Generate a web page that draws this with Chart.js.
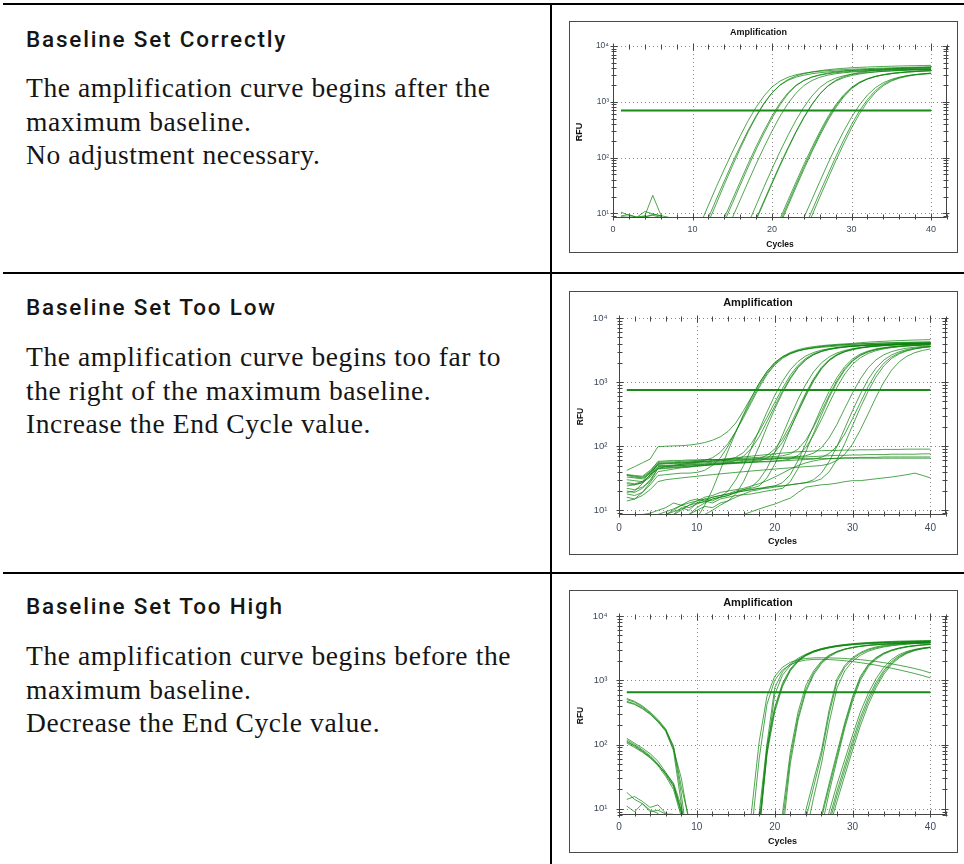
<!DOCTYPE html>
<html>
<head>
<meta charset="utf-8">
<script src="https://cdn.jsdelivr.net/npm/chart.js@4/dist/chart.umd.min.js"></script>
<style>
  html, body { margin: 0; padding: 0; background: #fff; }
  body { width: 964px; height: 864px; position: relative; overflow: hidden; }
  .rule { position: absolute; background: #000; }
  .head { position: absolute; left: 26px; font-family: Roboto, "Noto Sans", sans-serif; font-weight: 500;
          font-size: 22.5px; line-height: 22.5px; letter-spacing: 1.8px; color: #151515; white-space: nowrap; }
  .text { position: absolute; left: 26px; font-family: "Liberation Serif", serif; font-size: 27.5px;
          line-height: 33.7px; letter-spacing: 0.6px; color: #151515; white-space: nowrap; }
  .frame { position: absolute; left: 569px; width: 387px; border: 1px solid #4a4a4a; background: #fff; }
  .frame canvas { display: block; }
</style>
</head>
<body>
<div class="rule" style="left:3px;top:3px;width:961px;height:2px"></div>
<div class="rule" style="left:3px;top:272px;width:961px;height:2px"></div>
<div class="rule" style="left:3px;top:572px;width:961px;height:2px"></div>
<div class="rule" style="left:550px;top:3px;width:2px;height:861px"></div>

<div class="head" style="top:28px">Baseline Set Correctly</div>
<div class="text" style="top:71px">The amplification curve begins after the<br>maximum baseline.<br>No adjustment necessary.</div>

<div class="head" style="top:296px">Baseline Set Too Low</div>
<div class="text" style="top:340px">The amplification curve begins too far to<br>the right of the maximum baseline.<br>Increase the End Cycle value.</div>

<div class="head" style="top:595px">Baseline Set Too High</div>
<div class="text" style="top:639px">The amplification curve begins before the<br>maximum baseline.<br>Decrease the End Cycle value.</div>

<div class="frame" style="top:21px;height:230px"><canvas id="correct" width="387" height="230"></canvas></div>
<div class="frame" style="top:291px;height:262px"><canvas id="tooLow" width="387" height="262"></canvas></div>
<div class="frame" style="top:590px;height:261px"><canvas id="tooHigh" width="387" height="261"></canvas></div>

<script>
// PCR cycle numbers (x values of every curve)
const cycles = [1,2,3,4,5,6,7,8,9,10,11,12,13,14,15,16,17,18,19,20,
                21,22,23,24,25,26,27,28,29,30,31,32,33,34,35,36,37,38,39,40];

// Axis ticks
const cycleTicks = [0, 10, 20, 30, 40];
const cycleTickLabels = ['0', '10', '20', '30', '40'];
const rfuTicks = [10, 100, 1000, 10000];
const rfuTickLabels = ['10\u00B9', '10\u00B2', '10\u00B3', '10\u2074'];

// Threshold lines (RFU) and the cycle span they cover
const thresholdCycles = [1, 40];
const correctThreshold = 700;
const tooLowThreshold = 750;
const tooHighThreshold = 650;

// RFU per cycle, one row per well: baseline set correctly
const correctRfu = [
  [10.5,9.2,8.6,9,21,9.5,3,1,1,2, 6.5,14,30,62,125,245,460,800,1280,1850, 2350,2750,3050,3250,3400,3520,3620,3700,3770,3830, 3880,3930,3980,4020,4060,4100,4140,4170,4200,4230],
  [9,9.5,8.5,10.8,9.8,9,4,1,1,1, 3.5,8.3,18,38,80,160,310,560,950,1450, 1980,2420,2760,3000,3180,3320,3430,3520,3600,3660, 3720,3770,3810,3850,3880,3910,3940,3960,3980,4000],
  [1,1,1,1,1,1,1,1,1,1.5, 3.2,7,15,33,70,145,290,540,930,1450, 2000,2500,2900,3200,3430,3610,3760,3880,3980,4070, 4140,4200,4250,4300,4340,4380,4410,4440,4470,4500],
  [8.7,8.5,8.4,8.6,9.6,9.1,8.5,3,1,1, 1,1,4,8.3,17.5,37,78,158,305,560, 950,1450,1980,2420,2760,3000,3180,3320,3420,3500, 3570,3630,3680,3720,3760,3790,3820,3850,3870,3890],
  [1,8.6,8.3,8.7,9.2,8.5,2,1,1,1, 1,1,3.3,7,15,32,68,140,275,510, 880,1380,1930,2400,2780,3050,3260,3420,3540,3640, 3720,3790,3850,3900,3950,3990,4030,4060,4090,4120],
  [1,1,1,1,1,1,1,1,1,1, 1,1,1,4,8.3,17.5,37,77,155,300, 550,930,1420,1950,2400,2750,3000,3180,3310,3410, 3490,3560,3620,3670,3710,3750,3780,3810,3840,3860],
  [1,1,1,1,1,1,1,1,1,1, 1,1,1,1,1,3,6.5,14,30,63, 128,250,465,800,1260,1800,2280,2650,2920,3110, 3250,3360,3450,3520,3580,3630,3670,3710,3740,3770],
  [1,1,1,1,1,1,1,1,1,1, 1,1,1,1,1,1,3.8,8,17,36, 75,150,290,530,900,1380,1900,2350,2700,2960, 3150,3300,3420,3510,3590,3650,3710,3760,3800,3840],
  [1,1,1,1,1,1,1,1,1,1, 1,1,1,1,1,1,3.5,7.5,16,34, 71,143,280,515,880,1370,1920,2420,2820,3120, 3350,3530,3670,3780,3870,3950,4020,4080,4130,4180],
  [1,1,1,1,1,1,1,1,1,1, 1,1,1,1,1,1,1,1,1,3.8, 8,17,36,75,150,290,530,880,1330,1820, 2250,2600,2860,3050,3200,3320,3410,3490,3550,3600],
  [1,1,1,1,1,1,1,1,1,1, 1,1,1,1,1,1,1,1,1,3.3, 7,15,32,67,135,265,490,830,1270,1760, 2200,2560,2830,3030,3180,3300,3390,3470,3530,3580],
  [1,1,1,1,1,1,1,1,1,1, 1,1,1,1,1,1,1,1,1,3, 6.3,13.5,29,61,125,245,455,780,1220,1720, 2180,2560,2850,3070,3240,3370,3470,3550,3620,3680],
  [1,1,1,1,1,1,1,1,1,1, 1,1,1,1,1,1,1,1,1,1, 1,1,4,8.3,17.5,37,77,155,295,530, 880,1320,1790,2200,2520,2760,2940,3070,3170,3250],
  [1,1,1,1,1,1,1,1,1,1, 1,1,1,1,1,1,1,1,1,1, 1,1,2.5,5.2,11,23.5,49,102,205,390, 690,1100,1580,2050,2430,2720,2930,3080,3190,3270],
  [1,1,1,1,1,1,1,1,1,1, 1,1,1,1,1,1,1,1,1,1, 1,1,2,4.3,9,19.5,41,86,175,340, 610,1000,1470,1950,2350,2650,2870,3020,3120,3200]
];

// RFU per cycle: baseline end cycle set too low
const tooLowRfu = [
  [42,48,55,63,98,100,101,102,104,108, 114,124,140,170,230,360,580,950,1450,2000, 2500,2900,3200,3420,3580,3700,3800,3880,3950,4010, 4120,4200,4270,4330,4390,4440,4490,4530,4570,4600],
  [35,33,32,38,54,55,55,56,57,58, 60,66,80,110,170,280,480,820,1300,1850, 2350,2750,3050,3280,3450,3580,3680,3760,3830,3890, 3940,3980,4020,4050,4080,4110,4140,4160,4180,4200],
  [1,1,1,1,1,3,4,5,6,7.5, 12,21,42,85,165,315,570,960,1470,2020, 2480,2830,3080,3260,3390,3490,3570,3640,3700,3750, 3790,3830,3860,3890,3920,3940,3960,3980,4000,4020],
  [18,17,19,25,35,36,37,38,38,39, 42,50,65,100,170,300,520,880,1370,1920, 2420,2810,3100,3310,3470,3600,3700,3790,3860,3920, 3970,4010,4050,4090,4120,4150,4180,4200,4220,4240],
  [30,29,28,35,52,53,54,54,55,56, 57,58,59,61,67,80,110,170,280,480, 800,1280,1830,2350,2760,3060,3280,3440,3560,3660, 3740,3800,3860,3910,3950,3990,4020,4050,4080,4100],
  [1,1,1,1,1,8.6,9.5,10.5,12,13, 13.5,15,16,20,30,50,92,180,340,620, 1030,1560,2100,2560,2900,3150,3330,3460,3560,3640, 3700,3760,3800,3840,3880,3910,3940,3960,3980,4000],
  [24,25,27,33,47,48,49,50,51,52, 53,54,55,56,60,70,92,140,240,420, 720,1170,1720,2250,2680,3000,3230,3400,3520,3620, 3700,3770,3820,3870,3910,3950,3980,4010,4040,4060],
  [1,1,1,1,1,1,1,5,8.6,10, 11.5,11,13,14,18,28,52,100,200,380, 680,1120,1680,2230,2680,3010,3240,3400,3520,3610, 3680,3740,3790,3830,3870,3900,3930,3950,3970,3990],
  [27,26,28,40,50,50,51,52,53,54, 55,56,57,58,59,60,61,64,72,90, 130,215,380,680,1130,1700,2250,2700,3030,3270, 3440,3560,3660,3740,3810,3870,3920,3960,4000,4030],
  [1,1,8.6,9,10,11,13,12,14,15, 14,16,17,18,20,21,23,30,45,80, 150,290,540,930,1450,2000,2480,2850,3120,3320, 3460,3570,3660,3730,3790,3840,3890,3930,3960,3990],
  [22,21,23,28,45,46,47,48,49,50, 51,52,53,54,55,56,57,59,65,80, 115,190,340,610,1040,1600,2160,2620,2960,3200, 3380,3510,3610,3690,3760,3820,3870,3910,3950,3980],
  [1,1,1,1,1,1,8.6,11,10,13, 15,14,16,17,19,21,22,24,32,52, 95,185,350,640,1080,1640,2200,2660,3000,3250, 3430,3560,3660,3740,3810,3870,3920,3960,4000,4040],
  [36,35,34,42,56,57,57,58,59,60, 61,62,62,63,64,65,66,67,68,69, 71,76,90,125,200,350,620,1060,1620,2180, 2640,2980,3220,3390,3510,3600,3670,3730,3780,3820],
  [1,1,1,5,8.6,9.5,10.5,12,13,14, 15,16,17,18,19,20,21,22,23,24, 27,36,60,110,210,400,720,1180,1750,2300, 2740,3060,3290,3450,3570,3660,3730,3790,3840,3880],
  [19,20,26,36,44,45,46,47,48,49, 50,51,52,53,54,55,56,57,58,59, 60,63,72,95,150,260,470,830,1340,1900, 2400,2800,3090,3300,3450,3560,3650,3720,3780,3830],
  [1,1,1,1,1,8.6,10,12,11,12.5, 14,13,15,16,17,17.5,18,19,20,21, 22,28,45,82,160,310,580,1000,1550,2120, 2600,2960,3220,3400,3530,3630,3710,3770,3820,3860],
  [33,32,31,37,53,54,55,55,56,57, 58,59,60,60,61,62,63,64,65,66, 67,68,69,71,78,95,135,220,390,680, 1120,1680,2220,2660,2990,3220,3390,3510,3600,3670],
  [1,1,1,1,1,1,1,5,8.6,11, 13,15,16,17,19,20,21,22,22,23, 24,25,26,27,30,38,58,100,190,360, 650,1100,1650,2200,2650,2980,3220,3390,3510,3600],
  [26,25,27,35,48,49,49,50,51,51, 52,53,53,54,55,55,56,57,57,58, 59,60,61,62,63,67,77,100,155,270, 480,850,1380,1960,2460,2850,3130,3330,3470,3580],
  [1,1,1,1,1,1,1,1,1,1, 8.6,10,12,14,16,18,20,21,23,24, 24,25,26,27,28,31,40,62,110,210, 400,720,1200,1780,2330,2760,3070,3290,3440,3550],
  [16,15,17,21,28,30,31,32,33,34, 35,36,37,38,39,40,41,42,43,44, 45,46,47,48,49,50,53,60,75,108, 180,320,580,990,1530,2080,2540,2880,3120,3290],
  [20,19,22,30,45,48,50,52,54,56, 58,60,62,64,66,68,70,72,74,76, 78,80,82,83,84,85,86,86,87,87, 88,88,88,89,89,89,90,90,90,90],
  [14,15,19,27,40,42,44,46,47,49, 50,52,53,55,56,58,59,61,62,63, 65,66,67,68,69,70,71,72,72,73, 73,74,74,74,75,75,75,75,76,76],
  [1,1,1,1,1,1,8.6,10,12,14, 16,17,19,20,21,22,24,26,29,33, 38,44,50,55,59,62,64,65,66,66, 67,67,67,68,68,68,68,68,68,68],
  [36,34,33,40,58,59,60,60,61,61, 62,62,62,62,63,63,63,63,63,64, 64,64,64,64,64,64,64,64,65,65, 65,65,65,65,65,65,65,65,65,65],
  [1,1,1,1,1,1,1,1,1,1, 1,1,1,1,3,8.6,9.5,10.5,11.5,12.5, 14,15.5,19,23,24,25,25.5,26.5,28,29, 29,30,31,32,33,34.5,36,38,35,32]
];

// RFU per cycle: baseline end cycle set too high
const tooHighRfu = [
  [520,470,400,320,245,175,90,17,2,1, 1,1,1,1,1,1,8.5,110,560,1150, 1600,1900,2080,2180,2230,2240,2230,2210,2180,2140, 2090,2030,1960,1880,1800,1710,1620,1520,1420,1300],
  [500,455,385,310,235,165,85,30,6,1, 1,1,1,1,1,1,4,60,420,1000, 1450,1750,1950,2060,2110,2120,2100,2060,2010,1950, 1880,1800,1720,1630,1540,1450,1360,1270,1180,1090],
  [470,430,370,300,230,170,95,22,7,1, 1,1,1,1,1,1,1,8.5,100,760, 1350,1800,2200,2550,2850,3100,3300,3470,3600,3710, 3800,3870,3930,3980,4020,4060,4090,4120,4140,4160],
  [455,420,360,295,225,160,80,12,1,1, 1,1,1,1,1,1,1,5,70,600, 1200,1700,2100,2450,2750,3000,3200,3370,3500,3610, 3700,3780,3840,3890,3930,3970,4000,4030,4050,4070],
  [125,105,88,72,55,37,24,9,2,1, 1,1,1,1,1,1,1,6,95,380, 900,1500,2050,2500,2850,3100,3300,3450,3570,3660, 3740,3800,3850,3890,3930,3960,3990,4010,4030,4050],
  [118,100,83,67,50,34,22,8.5,2,1, 1,1,1,1,1,1,1,4,70,320, 800,1400,1950,2400,2750,3000,3200,3350,3470,3560, 3630,3690,3740,3780,3820,3850,3880,3900,3920,3940],
  [112,96,80,65,49,35,23,9.5,2,1, 1,1,1,1,1,1,1,5,80,350, 850,1450,2000,2450,2800,3050,3250,3400,3520,3620, 3700,3760,3810,3850,3890,3920,3950,3970,3990,4010],
  [110,94,78,63,47,32,20,7.5,1,1, 1,1,1,1,1,1,1,1,1,1, 8.5,75,320,830,1400,1980,2470,2820,3070,3250, 3380,3480,3560,3620,3670,3710,3740,3770,3790,3810],
  [105,90,76,62,48,36,25,11,2,1, 1,1,1,1,1,1,1,1,1,1, 4,50,240,660,1220,1820,2320,2720,3010,3210, 3360,3480,3570,3640,3700,3750,3790,3820,3850,3870],
  [1,1,1,1,1,1,1,1,1,1, 1,1,1,1,1,1,1,1,1,1, 6,62,270,720,1300,1900,2400,2780,3050,3250, 3400,3510,3600,3670,3730,3780,3820,3860,3890,3920],
  [18,14,12,9.5,8.5,3,1,1,1,1, 1,1,1,1,1,1,1,1,1,1, 1,1,2,7,22,68,300,950,1600,2150, 2600,2950,3200,3380,3510,3610,3690,3750,3800,3840],
  [14,15.5,13,10.5,11.5,8.5,3,1,1,1, 1,1,1,1,1,1,1,1,1,1, 1,1,1,4,15,50,220,760,1400,1980, 2450,2820,3090,3290,3440,3550,3640,3710,3770,3810],
  [1,1,1,1,1,1,1,1,1,1, 1,1,1,1,1,1,1,1,1,1, 1,1,2,9.5,28,80,350,1050,1700,2250, 2700,3050,3300,3480,3610,3710,3790,3850,3900,3940],
  [11,9,12,9,9.5,8.3,8.2,3,1,1, 1,1,1,1,1,1,1,1,1,1, 1,1,1,1,2,8,25,75,220,560, 1150,1750,2250,2650,2950,3170,3330,3450,3540,3610],
  [1,1,1,1,1,1,1,1,1,1, 1,1,1,1,1,1,1,1,1,1, 1,1,1,1,1.5,5,18,58,180,470, 1000,1600,2120,2540,2870,3110,3290,3420,3520,3600],
  [1,1,1,1,1,1,1,1,1,1, 1,1,1,1,1,1,1,1,1,1, 1,1,1,1,2,7,22,66,200,520, 1080,1680,2200,2620,2940,3180,3350,3480,3580,3650],
  [1,1,1,1,1,1,1,1,1,1, 1,1,1,1,1,1,1,1,1,1, 1,1,1,1,1,3,9,24,58,140, 320,620,1050,1580,2100,2520,2820,3030,3180,3290],
  [1,1,1,1,1,1,1,1,1,1, 1,1,1,1,1,1,1,1,1,1, 1,1,1,1,1,2,7,19,47,115, 265,530,920,1420,1950,2400,2740,2980,3150,3270],
  [1,1,1,1,1,1,1,1,1,1, 1,1,1,1,1,1,1,1,1,1, 1,1,1,1,1,2,6,16,40,98, 230,470,840,1330,1860,2320,2680,2940,3120,3250],
  [1,1,1,1,1,1,1,1,1,1, 1,1,1,1,1,1,1,1,1,1, 1,1,1,1,1,1.5,5,13,33,82, 195,410,760,1230,1760,2240,2620,2900,3090,3230]
];

const SANS = '"Liberation Sans", Arial, sans-serif';
const curveColor = 'rgba(12,132,12,0.72)';
const thresholdColor = 'rgb(24,138,24)';
const gridColor = '#8a8a8a';
const spineColor = '#454545';
const tickTextColor = '#3e4a5e';

// Dotted grid behind the curves; solid frame with minor/major tick marks on top.
const panelFrame = {
  id: 'panelFrame',
  beforeDatasetsDraw(chart) {
    const { ctx, chartArea: a, scales: { x, y } } = chart;
    ctx.save();
    ctx.strokeStyle = gridColor;
    ctx.lineWidth = 1;
    ctx.setLineDash([1, 3]);
    ctx.beginPath();
    cycleTicks.forEach(v => {
      const px = Math.round(x.getPixelForValue(v)) + 0.5;
      ctx.moveTo(px, a.top); ctx.lineTo(px, a.bottom);
    });
    rfuTicks.forEach(v => {
      const py = Math.round(y.getPixelForValue(v)) + 0.5;
      ctx.moveTo(a.left, py); ctx.lineTo(a.right, py);
    });
    ctx.stroke();
    ctx.restore();
  },
  afterDatasetsDraw(chart) {
    const { ctx, chartArea: a, scales: { x, y } } = chart;
    const L = Math.round(a.left) + 0.5, R = Math.round(a.right) - 0.5;
    const T = Math.round(a.top) + 0.5, B = Math.round(a.bottom) - 0.5;
    ctx.save();
    ctx.strokeStyle = spineColor;
    ctx.lineWidth = 1;
    ctx.beginPath();
    ctx.moveTo(L, T); ctx.lineTo(L, B); ctx.lineTo(R, B); ctx.lineTo(R, T);
    // log minor and major ticks on left and right spines
    for (let d = 0; d <= 4; d++) {
      for (let m = 1; m <= 9; m++) {
        const v = m * Math.pow(10, d);
        if (v < y.min || v > y.max) continue;
        const py = Math.round(y.getPixelForValue(v)) + 0.5;
        const len = m === 1 ? 3 : 2;
        ctx.moveTo(L - len, py); ctx.lineTo(L + len + 1, py);
        ctx.moveTo(R - len - 1, py); ctx.lineTo(R + len, py);
      }
    }
    // cycle ticks every 2 cycles on top and bottom
    for (let c = 0; c <= x.max; c += 2) {
      const px = Math.round(x.getPixelForValue(c)) + 0.5;
      const len = c % 10 === 0 ? 3 : 2;
      ctx.moveTo(px, B - len - 1); ctx.lineTo(px, B + len);
      ctx.moveTo(px, T - len); ctx.lineTo(px, T + len + 1);
    }
    ctx.stroke();
    ctx.restore();
  }
};

function drawPanel(canvasId, rfuRows, threshold, look) {
  const datasets = [{
    data: thresholdCycles.map(c => ({ x: c, y: threshold })),
    borderColor: thresholdColor, borderWidth: 2, pointRadius: 0, clip: 0
  }];
  rfuRows.forEach(row => datasets.push({
    data: row.map((v, i) => ({ x: cycles[i], y: v })),
    borderColor: curveColor, borderWidth: 1, pointRadius: 0, tension: 0, clip: 0
  }));

  new Chart(document.getElementById(canvasId), {
    type: 'line',
    data: { datasets },
    plugins: [panelFrame],
    options: {
      responsive: false,
      animation: false,
      devicePixelRatio: 1,
      events: [],
      layout: { padding: { left: 0, right: look.padRight, top: 0, bottom: 0 } },
      plugins: {
        legend: { display: false },
        tooltip: { enabled: false },
        title: {
          display: true, text: 'Amplification', color: '#111',
          font: { family: SANS, size: look.titleSize, weight: 'bold', lineHeight: 1.2 },
          padding: { top: look.titleTop, bottom: look.titleBottom }
        }
      },
      scales: {
        x: {
          type: 'linear', min: 0, max: 42,
          afterBuildTicks: s => { s.ticks = cycleTicks.map(v => ({ value: v })); },
          afterFit: s => { s.height = look.xHeight; },
          grid: { display: false, drawTicks: false },
          border: { display: false },
          ticks: {
            autoSkip: false, maxRotation: 0, padding: look.xPad, color: tickTextColor,
            font: { family: SANS, size: look.xTickSize, lineHeight: 1.2 },
            callback: v => cycleTickLabels[cycleTicks.indexOf(v)]
          },
          title: {
            display: true, text: 'Cycles', color: '#111',
            font: { family: SANS, size: look.axisTitleSize, weight: 'bold', lineHeight: 1.2 },
            padding: { top: 0, bottom: look.xTitlePad }
          }
        },
        y: {
          type: 'logarithmic', min: look.yMin, max: 10000,
          afterBuildTicks: s => { s.ticks = rfuTicks.map(v => ({ value: v })); },
          afterFit: s => { s.width = look.yWidth; },
          grid: { display: false, drawTicks: false },
          border: { display: false },
          ticks: {
            autoSkip: false, padding: look.yPad, color: tickTextColor,
            font: { family: SANS, size: look.yTickSize, lineHeight: 1.2 },
            callback: v => rfuTickLabels[rfuTicks.indexOf(v)]
          },
          title: {
            display: true, text: 'RFU', color: '#111',
            font: { family: SANS, size: look.rfuTitleSize, weight: 'bold', lineHeight: 1.2 },
            padding: { top: look.yTitlePad, bottom: 0 }
          }
        }
      }
    }
  });
}

drawPanel('correct', correctRfu, correctThreshold, {
  padRight: 10, titleSize: 9, titleTop: 5.6, titleBottom: 7.6,
  xHeight: 34, xPad: 6.6, xTickSize: 9, axisTitleSize: 8.5, xTitlePad: 2.6,
  yWidth: 43, yPad: 4, yTickSize: 8.5, rfuTitleSize: 9, yTitlePad: 4.6, yMin: 8.25
});
drawPanel('tooLow', tooLowRfu, tooLowThreshold, {
  padRight: 11, titleSize: 11, titleTop: 4.4, titleBottom: 8.4,
  xHeight: 39, xPad: 7, xTickSize: 10, axisTitleSize: 9, xTitlePad: 6.6,
  yWidth: 49, yPad: 11.5, yTickSize: 9.5, rfuTitleSize: 8.5, yTitlePad: 5.9, yMin: 8.45
});
drawPanel('tooHigh', tooHighRfu, tooHighThreshold, {
  padRight: 11, titleSize: 11, titleTop: 5.4, titleBottom: 6.4,
  xHeight: 37, xPad: 6, xTickSize: 10, axisTitleSize: 9, xTitlePad: 4.6,
  yWidth: 49, yPad: 11.5, yTickSize: 9.5, rfuTitleSize: 8.5, yTitlePad: 5.9, yMin: 8.0
});
</script>
</body>
</html>
